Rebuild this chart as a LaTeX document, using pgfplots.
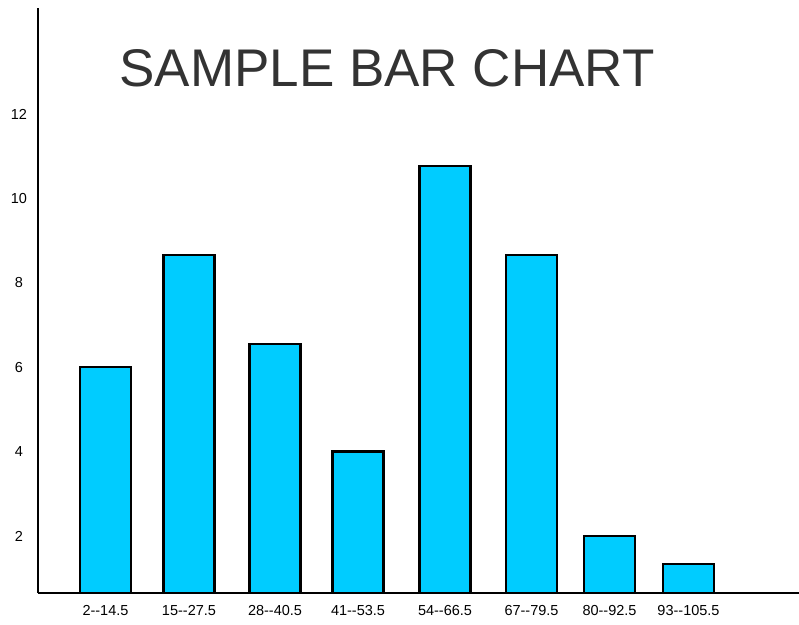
\documentclass[border=0pt]{standalone}
\usepackage{pgfplots}
\pgfplotsset{compat=1.18}
\usepackage{fontspec}
\setmainfont{Liberation Sans}
\definecolor{barblue}{RGB}{0,204,255}
\definecolor{titlegray}{RGB}{51,51,51}
\newcommand\dd{-\kern0pt-}
\begin{document}
\begin{tikzpicture}
\path[use as bounding box] (0,0) rectangle (799pt,624pt);
\begin{axis}[
  at={(38pt,31pt)}, anchor=south west,
  scale only axis, width=761pt, height=585pt,
  xmin=38, xmax=799, ymin=0.65, ymax=14.51,
  axis lines=left,
  axis line style={-, line width=2pt, black},
  major tick length=0pt,
  ytick={2,4,6,8,10,12},
  xtick={105.5,189,275,358,445,531.5,609.5,688.5},
  xticklabels={2\dd14.5,15\dd27.5,28\dd40.5,41\dd53.5,54\dd66.5,67\dd79.5,80\dd92.5,93\dd105.5},
  /pgf/number format/assume math mode=true,
  tick label style={font=\fontsize{14.5}{17}\selectfont, inner sep=0pt},
  yticklabel style={anchor=center, xshift=-19pt},
  xticklabel style={anchor=center, yshift=-18pt},
  clip=true,
]
\addplot[ybar, bar width=51, fill=barblue, draw=black, line width=2.5pt]
coordinates {(105.5,6.0) (189,8.66) (275,6.55) (358,4.0) (445,10.77) (531.5,8.66) (609.5,2.0) (688.5,1.34)};
\end{axis}
\node[text=titlegray, font=\fontsize{53}{60}\selectfont, inner sep=0pt] at (387pt,556pt) {SAMPLE BAR CHART};
\end{tikzpicture}
\end{document}
